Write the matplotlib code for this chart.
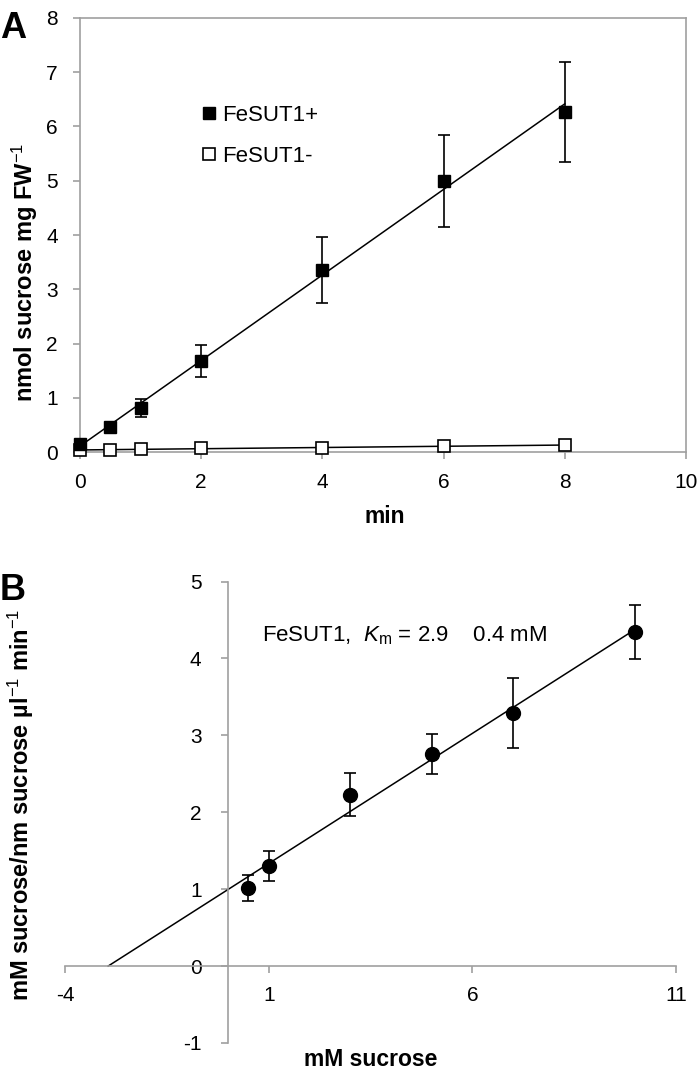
import numpy as np
import matplotlib
matplotlib.use('Agg')
import matplotlib.pyplot as plt

plt.rcParams['font.family'] = ['Liberation Sans', 'DejaVu Sans']
plt.rcParams['mathtext.fontset'] = 'custom'
plt.rcParams['mathtext.rm'] = 'Liberation Sans'
plt.rcParams['mathtext.it'] = 'Liberation Sans:italic'
plt.rcParams['mathtext.bf'] = 'Liberation Sans:bold'
plt.rcParams['axes.unicode_minus'] = False

# panel A: uptake time course
time_min = [0, 0.5, 1, 2, 4, 6, 8]
plus_vals = [0.15, 0.46, 0.81, 1.68, 3.35, 5.00, 6.27]
plus_err = [0.0, 0.0, 0.17, 0.30, 0.61, 0.85, 0.92]
minus_vals = [0.04, 0.04, 0.05, 0.07, 0.07, 0.11, 0.13]
minus_err = [0.0, 0.0, 0.0, 0.0, 0.0, 0.04, 0.05]

# panel B: Hanes-Woolf plot
conc_mM = [0.5, 1, 3, 5, 7, 10]
hw_vals = [1.02, 1.30, 2.23, 2.76, 3.29, 4.34]
hw_err = [0.17, 0.19, 0.28, 0.26, 0.45, 0.35]

gray = '#a0a0a0'
tick_fs = 15

fig = plt.figure(figsize=(7, 10.77), dpi=100)

# ---------------- panel A ----------------
ax = fig.add_axes([0.1143, 0.5803, 0.8657, 0.403])
ax.errorbar(time_min, plus_vals, yerr=plus_err, fmt='none', ecolor='black',
            elinewidth=1.2, capsize=4, capthick=1.2)
ax.errorbar(time_min, minus_vals, yerr=minus_err, fmt='none', ecolor='black',
            elinewidth=1.2, capsize=4, capthick=1.2)

# linear trendlines
p = np.polyfit(time_min, plus_vals, 1)
m = np.polyfit(time_min, minus_vals, 1)
tx = np.array([time_min[0], time_min[-1]])
ax.plot(tx, np.polyval(p, tx), color='black', lw=1.1)
ax.plot(tx, np.polyval(m, tx), color='black', lw=1.1)

ax.plot(time_min, minus_vals, 's', mfc='white', mec='black', mew=1.2, ms=8.5,
        label='FeSUT1-', clip_on=False, zorder=3)
ax.plot(time_min, plus_vals, 's', color='black', ms=8.5, label='FeSUT1+',
        clip_on=False, zorder=4)

ax.set_xlim(0, 10)
ax.set_ylim(0, 8)
ax.set_xticks(range(0, 11, 2))
ax.set_yticks(range(0, 9))
for s in ax.spines.values():
    s.set_color(gray)
    s.set_linewidth(1.2)
ax.tick_params(direction='out', color=gray, length=5, width=1.2,
               labelsize=tick_fs)
ax.tick_params(axis='x', pad=10)
ax.tick_params(axis='y', pad=11)
h, l = ax.get_legend_handles_labels()
ax.legend(h[::-1], l[::-1], loc='upper left', bbox_to_anchor=(0.188, 0.82),
          frameon=False, fontsize=16, handlelength=0.6, handletextpad=0.25,
          labelspacing=0.9, borderaxespad=0)
fig.text(0.55, 0.520, 'min', fontsize=16.5, fontweight='bold',
         ha='center', va='center')
fig.text(0.036, 0.7474, 'nmol sucrose mg FW$^{-1}$', fontsize=17,
         fontweight='bold', rotation=90, ha='center', va='center')
fig.text(0.0, 0.99, 'A', fontsize=26, fontweight='bold', va='top')

# ---------------- panel B ----------------
bx = fig.add_axes([0.0929, 0.0316, 0.8729, 0.4284])
bx.errorbar(conc_mM, hw_vals, yerr=hw_err, fmt='none', ecolor='black',
            elinewidth=1.2, capsize=4, capthick=1.2)
q = np.polyfit(conc_mM, hw_vals, 1)
lx = np.array([-q[1] / q[0], conc_mM[-1]])
bx.plot(lx, np.polyval(q, lx), color='black', lw=1.1)
bx.plot(conc_mM, hw_vals, 'o', color='black', ms=10)

bx.set_xlim(-4, 11)
bx.set_ylim(-1, 5)
bx.set_xticks([-4, 1, 6, 11])
bx.set_yticks(range(-1, 6))
bx.spines['left'].set_position(('data', 0))
bx.spines['bottom'].set_position(('data', 0))
bx.spines['top'].set_visible(False)
bx.spines['right'].set_visible(False)
for k in ('left', 'bottom'):
    bx.spines[k].set_color(gray)
    bx.spines[k].set_linewidth(1.2)
bx.tick_params(direction='out', color=gray, length=5, width=1.2,
               labelsize=tick_fs)
bx.tick_params(axis='x', pad=9)
bx.tick_params(axis='y', pad=14)
bx.text(0.84, 4.3, 'FeSUT1,  $\\mathit{K}_\\mathrm{m}$ = 2.9    0.4 mM',
        fontsize=16, va='center', ha='left')
fig.text(0.53, 0.0165, 'mM sucrose', fontsize=16.5, fontweight='bold',
         ha='center', va='center')
fig.text(0.03, 0.2526, 'mM sucrose/nm sucrose µl$^{-1}$ min$^{-1}$',
         fontsize=17, fontweight='bold', rotation=90, ha='center', va='center')
fig.text(0.0, 0.468, 'B', fontsize=26, fontweight='bold', va='top')

fig.savefig('out.png', dpi=100)
